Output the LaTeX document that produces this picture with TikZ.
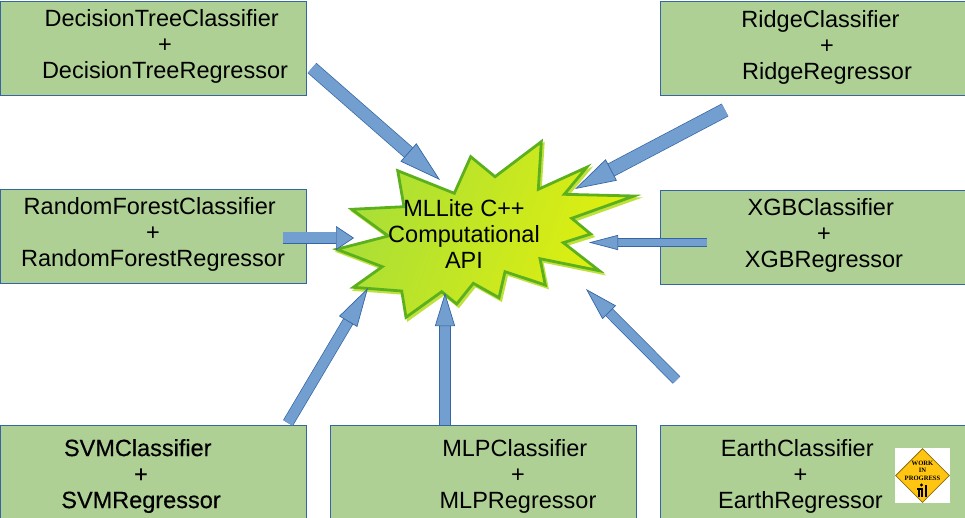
\documentclass[tikz,border=0pt]{standalone}
\usepackage{fontspec}
\setmainfont{Liberation Sans}
\newfontfamily\heavyfont[FakeBold=0.4]{Liberation Sans}
\newfontfamily\signfont{Liberation Serif}
\usetikzlibrary{arrows.meta,positioning,shapes.geometric}
\definecolor{mlBox}{HTML}{AFD095}
\definecolor{mlEdge}{HTML}{3465A4}
\definecolor{mlArrow}{HTML}{729FCF}
\definecolor{mlStar}{HTML}{5CB01E}
\definecolor{mlGlow}{HTML}{BFE23A}
\definecolor{mlGreen}{HTML}{A8DE38}
\definecolor{mlYellow}{HTML}{E2F00C}
\definecolor{mlSign}{HTML}{FFC511}
\definecolor{mlSignEdge}{HTML}{8A6D10}
\newcommand{\tailgap}{\hspace*{6.5pt}}
\begin{document}
\begin{tikzpicture}[
  x=1pt,y=-1pt,
  box/.style={draw=mlEdge,fill=mlBox,anchor=north west,minimum width=306pt,
    minimum height=94pt,line width=0.7pt},
  label/.style={align=center,font=\fontsize{23.5}{26}\selectfont,inner sep=0pt},
  blockarrow/.style n args={3}{draw=mlEdge,line width=0.7pt,double=mlArrow,double distance=#1,
    -{Triangle[length=#2,width=#3,fill=mlArrow,color=mlEdge,line width=0.7pt]}}
]
\useasboundingbox (0,0) rectangle (965,518);
% boxes
\node[box] (tree) at (0,1) {};
\node[box] (ridge) at (660,1) {};
\node[box] (forest) at (0,189) {};
\node[box] (xgb) at (660,190) {};
\node[box] (svm) at (0,425) {};
\node[box] (mlp) at (330,425) {};
\node[box] (earth) at (660,425) {};
\node[label] (treeText) at (165,46) {DecisionTreeClassifier\tailgap\\+\tailgap\\DecisionTreeRegressor};
\node[label] (ridgeText) at (827,47) {RidgeClassifier\tailgap\tailgap\\+\tailgap\\RidgeRegressor};
\node[label] (forestText) at (153,234) {RandomForestClassifier\tailgap\\+\tailgap\\RandomForestRegressor};
\node[label] (xgbText) at (824,235) {XGBClassifier\tailgap\\+\tailgap\\XGBRegressor};
\node[label,font=\fontsize{23.5}{26}\heavyfont] (svmText) at (141,476) {SVMClassifier\tailgap\\+\tailgap\\SVMRegressor};
\node[label] (mlpText) at (518,476) {MLPClassifier\tailgap\\+\tailgap\\MLPRegressor};
\node[label] (earthText) at (800.5,476) {EarthClassifier\tailgap\\+\tailgap\\EarthRegressor};
% star
\def\starpath{(397.7,170.7) -- (454.3,193.3) -- (470.7,156.7) -- (495,176.7) -- (541.3,141.7)
  -- (538.3,189.3) -- (586.7,167.3) -- (564.3,194.3) -- (634,196) -- (571.7,218.3)
  -- (590.7,234) -- (563.3,242.7) -- (599.3,270.7) -- (540,258.7) -- (545.3,285)
  -- (505,271.7) -- (499,297.7) -- (473.3,283.3) -- (456.7,304) -- (441.7,291.7)
  -- (406,317.3) -- (401.7,291) -- (353.3,287.3) -- (382.3,266.7) -- (336.7,249.3)
  -- (388.3,236) -- (351.7,209.3) -- (404,206.7) -- cycle}
\draw[mlGlow,fill=mlGlow,line width=2.5pt,shift={(2,2.5)}] \starpath;
\draw[mlStar,line width=2.8pt,left color=mlGreen,right color=mlYellow,shading angle=70] \starpath;
\node[label] (api) at (464,234) {MLLite C++\\Computational\\API};
% arrows
\coordinate (treeTail) at (312,68);
\coordinate (treeTip) at (440,180);
\coordinate (ridgeTail) at (725,110);
\coordinate (ridgeTip) at (575,189);
\coordinate (forestTail) at (283,238);
\coordinate (forestTip) at (354,238);
\coordinate (xgbTail) at (707,242.5);
\coordinate (xgbTip) at (589,242.5);
\coordinate (svmTail) at (288,423);
\coordinate (svmTip) at (368,288);
\coordinate (mlpTail) at (445,425);
\coordinate (mlpTip) at (445,293);
\coordinate (earthTail) at (676.5,380);
\coordinate (earthTip) at (586,289);
\draw[blockarrow={12pt}{42pt}{24pt}] (treeTail) -- (treeTip);
\draw[blockarrow={13pt}{41pt}{24pt}] (ridgeTail) -- (ridgeTip);
\draw[blockarrow={11pt}{18pt}{24pt}] (forestTail) -- (forestTip);
\draw[blockarrow={7pt}{29pt}{15pt}] (xgbTail) -- (xgbTip);
\draw[blockarrow={10pt}{39pt}{21pt}] (svmTail) -- (svmTip);
\draw[blockarrow={10pt}{33pt}{20pt}] (mlpTail) -- (mlpTip);
\draw[blockarrow={9pt}{33pt}{19pt}] (earthTail) -- (earthTip);
% work in progress sign
\node[fill=white,minimum size=55pt,inner sep=0pt] (signBack) at (922.5,475.5) {};
\node[diamond,draw=mlSignEdge,fill=mlSign,minimum size=54pt,inner sep=0pt,line width=0.8pt] (sign) at (922.5,475.5) {};
\node[align=center,inner sep=0pt,font=\fontsize{6.6}{7.6}\signfont\bfseries] (signText) at (922.5,470.7) {WORK\\IN\\PROGRESS};
\fill (921.5,485) circle (1.7);
\fill (917,488) rectangle (923,490);
\fill (918,490) rectangle (919.5,497);
\fill (921,490) rectangle (922.5,497);
\fill (925,485) rectangle (927,497);
\end{tikzpicture}
\end{document}
